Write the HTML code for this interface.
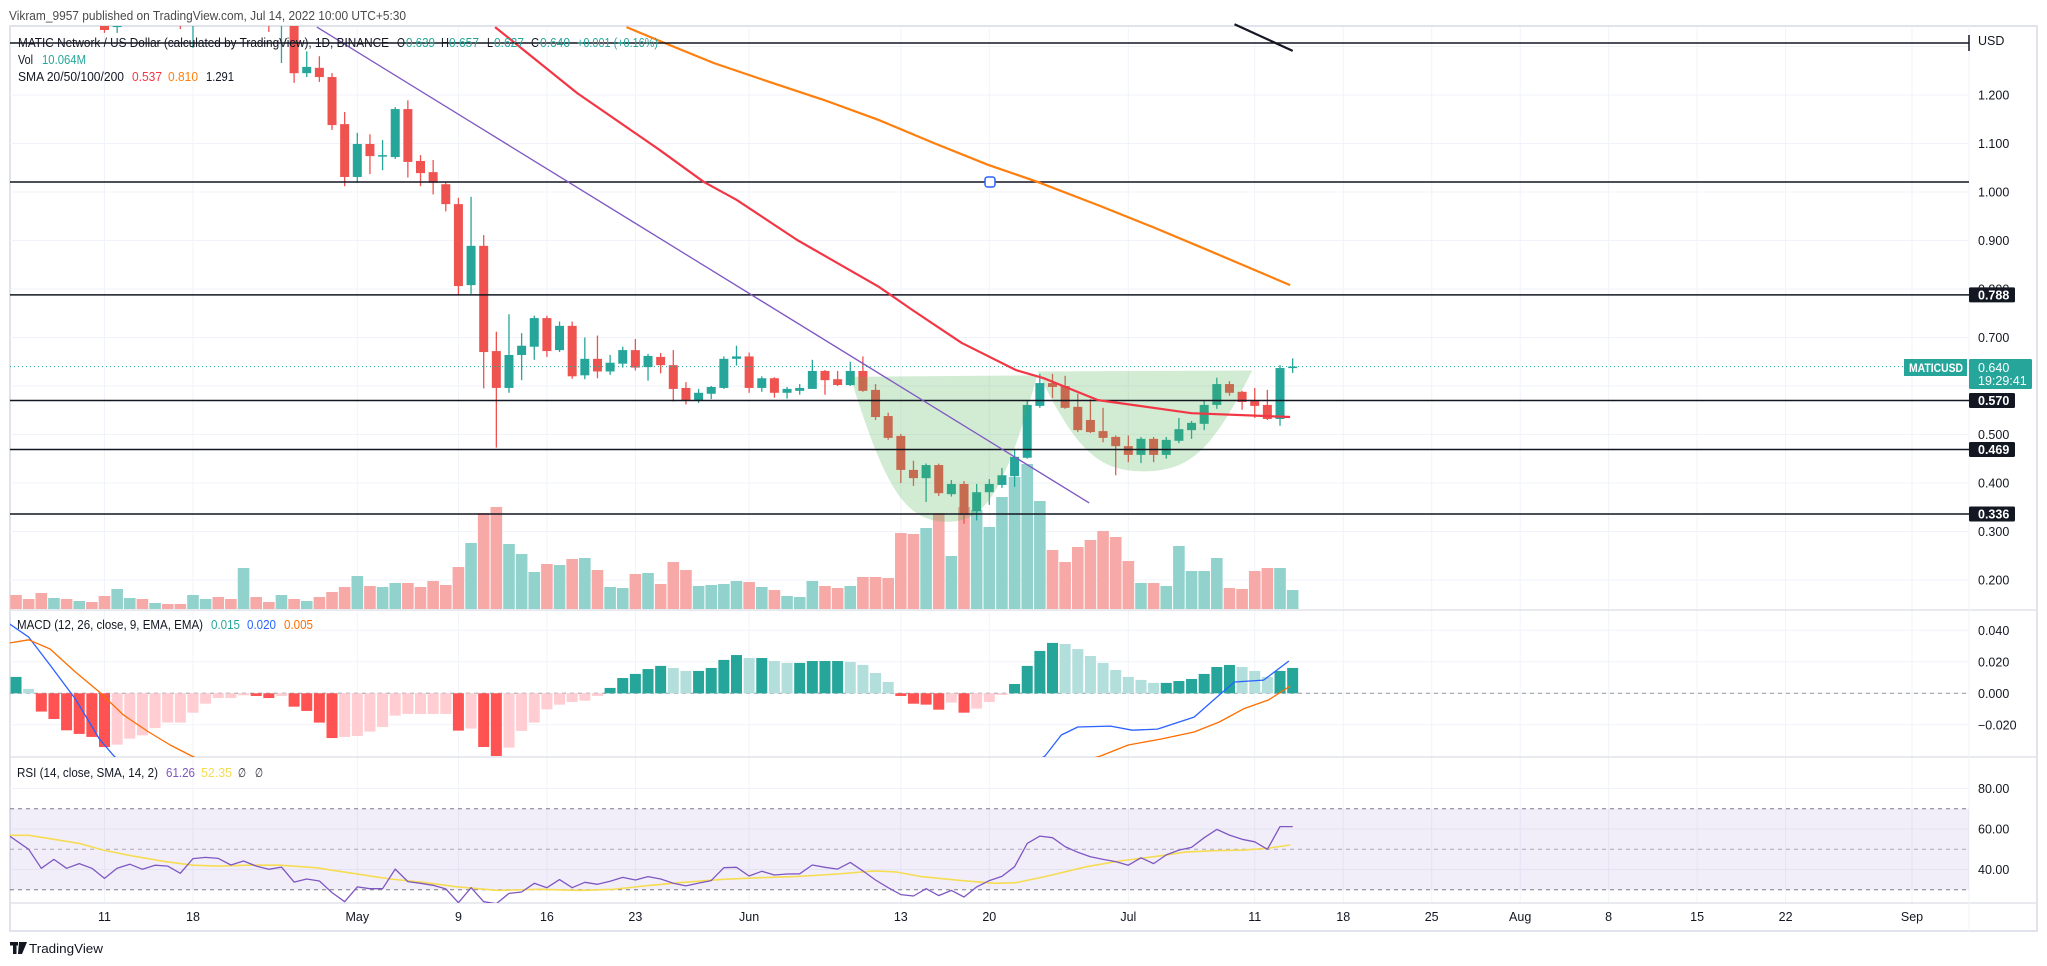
<!DOCTYPE html>
<html><head><meta charset="utf-8"><title>MATICUSD chart</title>
<style>
html,body{margin:0;padding:0;background:#fff;}
svg{display:block;font-family:"Liberation Sans",Arial,sans-serif;}
</style></head>
<body>
<svg id="chart" xmlns="http://www.w3.org/2000/svg" width="2047" height="966" viewBox="0 0 2047 966">
<defs>
<clipPath id="cpPrice"><rect x="10" y="26" width="1959" height="584"/></clipPath>
<clipPath id="cpMacd"><rect x="10" y="611" width="1959" height="146"/></clipPath>
<clipPath id="cpRsi"><rect x="10" y="758" width="1959" height="145"/></clipPath>
</defs>
<rect x="0" y="0" width="2047" height="966" fill="#ffffff"/>
<text x="9" y="20" font-size="12.5" fill="#4a4a4a" textLength="397" lengthAdjust="spacingAndGlyphs">Vikram_9957 published on TradingView.com, Jul 14, 2022 10:00 UTC+5:30</text>
<rect x="10" y="26" width="2027" height="905" fill="none" stroke="#e0e3eb" stroke-width="2"/>
</svg>
<script>
// ---------- data ----------
const firstDay = -7; // Apr 4, 2022 (day 0 = Apr 11)
const opens  = [1.52,1.50,1.46,1.42,1.45,1.41,1.43,1.37,1.34,1.38,1.42,1.40,1.43,1.39,1.345,1.40,1.42,1.39,1.36,1.41,1.38,1.36,1.39,1.245,1.256,1.237,1.140,1.031,1.099,1.074,1.072,1.171,1.064,1.041,1.016,0.975,0.808,0.889,0.672,0.596,0.664,0.681,0.740,0.674,0.724,0.622,0.656,0.630,0.646,0.674,0.639,0.660,0.643,0.596,0.571,0.584,0.596,0.656,0.661,0.596,0.616,0.586,0.590,0.594,0.631,0.614,0.602,0.631,0.592,0.538,0.497,0.427,0.410,0.437,0.377,0.398,0.342,0.381,0.396,0.414,0.452,0.559,0.606,0.600,0.557,0.530,0.507,0.495,0.476,0.458,0.491,0.458,0.487,0.509,0.522,0.561,0.604,0.588,0.569,0.561,0.532,0.639];
const highs  = [1.58,1.55,1.50,1.47,1.48,1.45,1.45,1.41,1.40,1.44,1.46,1.45,1.46,1.42,1.42,1.44,1.45,1.42,1.43,1.44,1.40,1.42,1.40,1.29,1.28,1.245,1.165,1.122,1.119,1.107,1.175,1.189,1.076,1.066,1.02,0.988,0.99,0.911,0.712,0.748,0.709,0.745,0.745,0.733,0.733,0.700,0.704,0.664,0.681,0.697,0.666,0.668,0.674,0.608,0.594,0.600,0.661,0.683,0.669,0.620,0.618,0.598,0.604,0.654,0.633,0.631,0.650,0.661,0.604,0.545,0.501,0.446,0.440,0.440,0.406,0.404,0.398,0.408,0.431,0.470,0.571,0.625,0.625,0.621,0.584,0.573,0.555,0.498,0.498,0.495,0.495,0.495,0.534,0.528,0.571,0.617,0.610,0.590,0.596,0.592,0.643,0.657];
const lows   = [1.47,1.44,1.40,1.38,1.39,1.38,1.36,1.328,1.328,1.36,1.38,1.37,1.38,1.336,1.297,1.37,1.38,1.35,1.35,1.37,1.33,1.266,1.225,1.237,1.227,1.128,1.012,1.019,1.037,1.045,1.068,1.03,1.012,0.995,0.96,0.787,0.79,0.595,0.473,0.586,0.612,0.654,0.660,0.670,0.615,0.614,0.616,0.623,0.638,0.632,0.611,0.626,0.568,0.562,0.565,0.573,0.594,0.642,0.586,0.588,0.576,0.574,0.582,0.594,0.582,0.600,0.600,0.588,0.530,0.489,0.400,0.394,0.361,0.373,0.372,0.316,0.323,0.355,0.390,0.392,0.450,0.555,0.575,0.553,0.505,0.503,0.484,0.416,0.443,0.441,0.443,0.450,0.482,0.491,0.509,0.553,0.580,0.551,0.534,0.530,0.518,0.627];
const closes = [1.50,1.46,1.42,1.45,1.41,1.43,1.37,1.334,1.38,1.42,1.40,1.43,1.39,1.345,1.40,1.42,1.39,1.36,1.41,1.38,1.36,1.39,1.245,1.258,1.237,1.138,1.031,1.099,1.074,1.076,1.171,1.062,1.039,1.019,0.975,0.806,0.889,0.670,0.596,0.664,0.683,0.740,0.672,0.724,0.620,0.656,0.630,0.648,0.674,0.638,0.662,0.643,0.594,0.571,0.586,0.598,0.656,0.661,0.596,0.616,0.586,0.594,0.596,0.631,0.612,0.602,0.631,0.590,0.536,0.493,0.427,0.410,0.437,0.379,0.398,0.334,0.381,0.398,0.416,0.454,0.561,0.606,0.598,0.555,0.509,0.505,0.493,0.476,0.458,0.491,0.458,0.489,0.511,0.524,0.561,0.604,0.586,0.567,0.559,0.532,0.637,0.640];
const volumes = [7,5,8,5.5,5,4,3.5,6.5,10,5.5,5,3,2.5,2.5,7,5,6,5,20.5,6,3.5,7,5,4,6,8.5,11,16.5,11.5,11,13,13,11,14,12,21,33,48,51,32.5,27.5,18.5,22.5,22,25,25.5,19.5,11,10.5,17.5,18,12.5,23.5,19.5,11.5,12,12.5,14,13.5,11,9.5,6.5,6,14,11.5,10.5,11.5,16,16,15.5,38,37.5,40.5,48,26.5,51,49.5,41,56,66,72.5,54,29.5,23.5,31,34.5,39,36,24,13,13,11.5,31.5,19,19,25.5,10.5,10,19,20.5,20.5,9.5];
const macdHist = [10.4,2.8,-11.6,-16.3,-23.5,-25.8,-27.7,-34.1,-32.6,-28.8,-26.7,-22.0,-18.6,-18.6,-12.3,-6.6,-3.0,-3.0,-1.3,-1.7,-3.0,-1.7,-8.5,-11.2,-18.6,-28.4,-27.7,-27.1,-24.3,-21.4,-14.2,-13.1,-13.1,-13.1,-13.1,-23.7,-22.4,-34.1,-39.8,-34.5,-23.9,-18.6,-10.2,-7.2,-5.5,-4.7,-1.7,3.4,9.7,12.3,15.4,17.4,16.1,14.2,14.2,16.1,21.2,24.3,22.4,22.4,20.5,19.3,19.3,20.5,20.5,20.5,19.9,18.0,12.9,7.2,-1.7,-6.6,-7.2,-10.4,-5.9,-12.3,-9.7,-5.5,-1.1,5.9,17.4,26.9,32.0,31.3,28.1,23.7,19.3,14.8,10.4,8.5,6.6,6.6,7.8,9.1,12.3,16.7,18.0,16.7,14.2,10.4,14.2,16.1];
const macdDays = [-7.5,-6,-4.3,-2.3,-0.4,0.75,5,35,70,74.4,75.7,77,79.6,81.3,83.3,86.2,88.2,89.4,91.7,93.7];
const macdVals = [44.0,35.7,17.9,-3.6,-29.0,-39.9,-70,-100,-60,-39.9,-26.5,-21.4,-20.8,-23.4,-22.7,-15.1,-1.1,7.2,8.4,20.5];
const signalDays = [-7.5,-6,-4.3,-2.3,-0.4,1.5,3.5,5.2,6.9,15,50,70,78.8,81,83.6,86.2,88.2,90.1,92.1,93.8];
const signalVals = [32.0,34.0,28.1,13.5,0.8,-13.8,-24.6,-32.8,-39.8,-70,-90,-60,-39.8,-32.8,-29.0,-24.6,-18.2,-9.9,-4.2,4.6];
const rsiFirst = [-7.5, 56.5];
const rsiVals = [50.0,40.6,45.0,40.6,42.9,40.6,35.6,40.6,42.6,40.1,42.1,41.7,38.1,45.4,46.0,45.5,42.2,44.2,41.7,40.1,41.2,33.8,35.3,34.3,28.6,24.1,31.4,30.5,30.5,40.2,34.0,33.2,32.2,30.4,23.6,31.0,24.1,23.1,28.2,28.9,33.2,31.0,35.0,31.0,33.7,32.7,34.2,36.1,34.8,36.5,35.3,33.2,31.9,33.3,34.5,40.9,41.1,36.8,39.1,37.3,37.8,37.9,42.2,41.1,40.2,43.5,39.3,34.8,31.0,27.6,26.9,30.5,27.1,29.7,26.4,31.4,34.5,36.6,41.4,52.9,56.5,55.7,51.3,48.5,46.3,45.0,43.9,42.1,45.8,42.9,47.2,49.6,50.9,55.7,59.8,57.0,54.9,53.7,50.0,61.2,61.2];
const rsiMaDays = [-7.5,-6,-4.3,-2,-0.1,2.2,4.8,7,8.9,11.4,13.9,16.7,19.3,22.6,25.2,27.8,31.1,34.4,37.6,40.3,42.9,45.5,48.8,52.1,54.7,58,60.9,62.6,64.5,67.8,70.5,72.1,74.4,77.7,80.3,83.6,85.5,87.8,90.1,92.1,93.8];
const rsiMaVals = [56.9,56.9,55.2,52.9,49.6,46.7,43.9,42.1,41.7,42.1,42.1,40.9,38.4,35.3,33.7,31.5,29.7,30.2,29.7,30.2,32.0,33.5,35.1,36.0,36.5,37.8,39.3,38.8,36.6,34.5,33.2,33.5,36.5,41.4,44.2,46.8,48.6,49.3,49.6,50.5,52.1];
const sma20Days = [30.9,37.4,43.9,47.4,50.0,54.8,61.3,63.9,67.8,72.1,74.3,78.6,86.0,93.8];
const sma20Vals = [1.340,1.204,1.087,1.021,0.984,0.901,0.804,0.757,0.689,0.633,0.616,0.571,0.544,0.536];
const sma50Days = [41.3,44.7,48.2,52.6,56.9,61.3,65.6,69.9,73.8,78.6,82.9,87.3,93.8];
const sma50Vals = [1.340,1.303,1.266,1.227,1.190,1.148,1.101,1.056,1.021,0.973,0.928,0.880,0.808];
const sma100Days = [89.4,94];
const sma100Vals = [1.346,1.291];
const trendDays = [16.8,77.9];
const trendVals = [1.340,0.359];
const levelPrices = [0.788,0.570,0.469,0.336];
const levelLabels = ['0.788','0.570','0.469','0.336'];
const priceTicks = [1.2,1.1,1.0,0.9,0.8,0.7,0.5,0.4,0.3,0.2];
const priceTickLabels = ['1.200','1.100','1.000','0.900','0.800','0.700','0.500','0.400','0.300','0.200'];
const macdTicks = [40,20,0,-20];
const macdTickLabels = ['0.040','0.020','0.000','\u22120.020'];
const rsiTicks = [80,60,40];
const rsiTickLabels = ['80.00','60.00','40.00'];
const dateDays = [0,7,20,28,35,42,51,63,70,81,91,98,105,112,119,126,133,143];
const dateLabels = ['11','18','May','9','16','23','Jun','13','20','Jul','11','18','25','Aug','8','15','22','Sep'];
const cup1Days = [59,73.8,66.7];
const cup1Vals = [0.619,0.622,0.320];
const cup2Days = [73.8,90.8,82.2];
const cup2Vals = [0.630,0.632,0.424];
const lastPrice = 0.640;

// ---------- axes ----------
const xOf = d => 104.5 + 12.64 * d;
const yP = p => 192 + (1 - p) * 485;
const yV = v => 609 - v * 2;
const yM = m => 693.3 - m * 1.575;
const yR = r => 829 + (60 - r) * 2.025;

const NS = 'http://www.w3.org/2000/svg';
const svg = document.getElementById('chart');
function mk(tag, attrs, parent) {
  const e = document.createElementNS(NS, tag);
  for (const k in attrs) e.setAttribute(k, attrs[k]);
  (parent || svg).appendChild(e);
  return e;
}
function txt(s, attrs, parent) { const e = mk('text', attrs, parent); e.textContent = s; return e; }
const GREEN = '#26a69a', RED = '#ef5350';

// grids
const grid = mk('g', {});


dateDays.forEach(d => {
  const l = mk('line', {x1: xOf(d), x2: xOf(d), y1: 27, y2: 903, stroke: '#f0f3fa', 'stroke-width': 1}, grid);
  
  
});
[1.3,1.2,1.1,1.0,0.9,0.8,0.7,0.6,0.5,0.4,0.3,0.2].forEach(p => {
  const l = mk('line', {x1: 10, x2: 1969, y1: yP(p), y2: yP(p), stroke: '#f0f3fa'}, grid);
  
  
});
macdTicks.forEach(m => {
  const l = mk('line', {x1: 10, x2: 1969, y1: yM(m), y2: yM(m), stroke: '#f0f3fa'}, grid);
  
  
});
rsiTicks.forEach(r => {
  const l = mk('line', {x1: 10, x2: 1969, y1: yR(r), y2: yR(r), stroke: '#f0f3fa'}, grid);
  
  
});
// pane separators
[610, 757, 903].forEach(y => {
  const l = mk('line', {x1: 10, x2: 2037, y1: y, y2: y, stroke: '#e0e3eb', 'stroke-width': 1.5});
  
  
});
const axSep = mk('line', {x1: 1969, x2: 1969, y1: 26, y2: 931, stroke: '#f0f3fa'});



// ---------- price pane ----------
const pricePane = mk('g', {'clip-path': 'url(#cpPrice)'});



// volume
volumes.forEach((v, i) => {
  const d = firstDay + i;
  const up = closes[i] >= opens[i];
  const r = mk('rect', {x: xOf(d) - 5.8, y: yV(v), width: 11.6, height: 609 - yV(v), fill: up ? '#92d2cc' : '#f7a9a7'}, pricePane);
  
  
});

// candles
opens.forEach((o, i) => {
  const d = firstDay + i, c = closes[i];
  const col = c >= o ? GREEN : RED;
  const x = xOf(d);
  const w = mk('line', {x1: x, x2: x, y1: yP(highs[i]), y2: yP(lows[i]), stroke: col, 'stroke-width': 1.3}, pricePane);
  
  
  const top = yP(Math.max(o, c)), bot = yP(Math.min(o, c));
  const b = mk('rect', {x: x - 4.5, y: top, width: 9, height: Math.max(1.5, bot - top), fill: col}, pricePane);
  
  
});

// cups
function cupPath(ds, vs) {
  const x0 = xOf(ds[0]), y0 = yP(vs[0]), x1 = xOf(ds[1]), y1 = yP(vs[1]), xb = xOf(ds[2]), yb = yP(vs[2]);
  return `M${x0},${y0} C${x0 + (xb - x0) * 0.35},${y0 + (yb - y0) * 0.75} ${xb - (xb - x0) * 0.45},${yb} ${xb},${yb} C${xb + (x1 - xb) * 0.45},${yb} ${x1 - (x1 - xb) * 0.35},${y1 + (yb - y1) * 0.75} ${x1},${y1} Z`;
}
const cup1 = mk('path', {d: cupPath(cup1Days, cup1Vals), fill: 'rgba(76,175,80,0.25)'}, pricePane);


const cup2 = mk('path', {d: cupPath(cup2Days, cup2Vals), fill: 'rgba(76,175,80,0.25)'}, pricePane);



// horizontal levels
const topLine = mk('line', {x1: 10, x2: 1969, y1: 43, y2: 43, stroke: '#131722', 'stroke-width': 1.5}, svg);


const topTick = mk('line', {x1: 1969, x2: 1969, y1: 35, y2: 51, stroke: '#131722', 'stroke-width': 1.5});


const oneLine = mk('line', {x1: 10, x2: 1969, y1: 182, y2: 182, stroke: '#131722', 'stroke-width': 1.5}, pricePane);


levelPrices.forEach(p => {
  const l = mk('line', {x1: 10, x2: 1969, y1: yP(p), y2: yP(p), stroke: '#131722', 'stroke-width': 1.5}, pricePane);
  
  
});
// last price dotted
const lp = mk('line', {x1: 10, x2: 1969, y1: yP(lastPrice), y2: yP(lastPrice), stroke: GREEN, 'stroke-width': 1, 'stroke-dasharray': '1,3'}, pricePane);



// lines
function poly(ds, vs, yf, color, width, parent) {
  const pts = ds.map((d, i) => xOf(d).toFixed(1) + ',' + yf(vs[i]).toFixed(1)).join(' ');
  const e = mk('polyline', {points: pts, fill: 'none', stroke: color, 'stroke-width': width, 'stroke-linejoin': 'round'}, parent);
  return e;
}
const tl = poly(trendDays, trendVals, yP, '#7e57c2', 1.3, pricePane);


const s20 = poly(sma20Days, sma20Vals, yP, '#f23645', 2.2, pricePane);


const s50 = poly(sma50Days, sma50Vals, yP, '#ff7f0e', 2.2, pricePane);


const s100 = poly(sma100Days, sma100Vals, yP, '#131722', 2.2, svg);


const handle = mk('rect', {x: 985, y: 177, width: 10, height: 10, rx: 2.5, fill: '#fff', stroke: '#2962ff', 'stroke-width': 1.5});



// ---------- MACD pane ----------
const macdPane = mk('g', {'clip-path': 'url(#cpMacd)'});


const z = mk('line', {x1: 10, x2: 1969, y1: yM(0), y2: yM(0), stroke: '#9598a1', 'stroke-dasharray': '4,4'}, macdPane);


macdHist.forEach((v, i) => {
  const prev = i > 0 ? macdHist[i - 1] : v;
  let col;
  if (v >= 0) col = v >= prev ? '#26a69a' : '#b2dfdb';
  else col = v < prev ? '#ff5252' : '#ffcdd2';
  const y0 = yM(0), y1 = yM(v);
  const r = mk('rect', {x: xOf(firstDay + i) - 5.5, y: Math.min(y0, y1), width: 11, height: Math.max(1, Math.abs(y1 - y0)), fill: col}, macdPane);
  
  
});
const ml = poly(macdDays, macdVals, yM, '#2962ff', 1.3, macdPane);


const sl = poly(signalDays, signalVals, yM, '#ff6d00', 1.3, macdPane);



// ---------- RSI pane ----------
const rsiPane = mk('g', {'clip-path': 'url(#cpRsi)'});


const band = mk('rect', {x: 10, y: yR(70), width: 1959, height: yR(30) - yR(70), fill: 'rgba(126,87,194,0.1)'}, rsiPane);


[70, 50, 30].forEach(r => {
  const l = mk('line', {x1: 10, x2: 1969, y1: yR(r), y2: yR(r), stroke: r === 50 ? '#a9a6b8' : '#787b86', 'stroke-dasharray': '4,4'}, rsiPane);
  
  
});
const rsiDays = [rsiFirst[0]].concat(rsiVals.map((v, i) => -6 + i));
const rsiAll = [rsiFirst[1]].concat(rsiVals);
const rma = poly(rsiMaDays, rsiMaVals, yR, '#f5dc52', 1.6, rsiPane);


const rl = poly(rsiDays, rsiAll, yR, '#7e57c2', 1.3, rsiPane);



// ---------- axis labels ----------
priceTicks.forEach((p, i) => {
  const t = txt(priceTickLabels[i], {x: 1978, y: yP(p) + 4.5, 'font-size': 12.5, fill: '#131722'});
  
  
});
const usd = txt('USD', {x: 1978, y: 45, 'font-size': 12.5, fill: '#131722'});


macdTicks.forEach((m, i) => {
  const t = txt(macdTickLabels[i], {x: 1978, y: yM(m) + 4.5, 'font-size': 12.5, fill: '#131722'});
  
  
});
rsiTicks.forEach((r, i) => {
  const t = txt(rsiTickLabels[i], {x: 1978, y: yR(r) + 4.5, 'font-size': 12.5, fill: '#131722'});
  
  
});
levelPrices.forEach((p, i) => {
  const y = yP(p);
  const r = mk('rect', {x: 1969, y: y - 7.5, width: 46, height: 15, rx: 1.5, fill: '#131722'});
  
  
  const t = txt(levelLabels[i], {x: 1978, y: y + 4.5, 'font-size': 12.5, 'font-weight': 'bold', fill: '#fff'});
  
  
});
const symTag = mk('rect', {x: 1904, y: 359, width: 63, height: 17, fill: GREEN});


const symTxt = txt('MATICUSD', {x: 1909, y: 372, 'font-size': 11.5, 'font-weight': 'bold', fill: '#fff', textLength: 54, lengthAdjust: 'spacingAndGlyphs'});


const pTag = mk('rect', {x: 1969, y: 359, width: 63, height: 30, rx: 1.5, fill: GREEN});


const pTxt = txt('0.640', {x: 1978, y: 372, 'font-size': 12.5, fill: '#fff'});


const cdTxt = txt('19:29:41', {x: 1978, y: 385, 'font-size': 12.5, fill: '#fff'});


dateDays.forEach((d, i) => {
  const t = txt(dateLabels[i], {x: xOf(d), y: 921, 'font-size': 12.5, fill: '#131722', 'text-anchor': 'middle'});
  
  
});

// ---------- legends ----------
const lg = mk('g', {'font-size': 12.5});


function leg(s, x, y, col, len) {
  return txt(s, {x: x, y: y, fill: col, textLength: len, lengthAdjust: 'spacingAndGlyphs'}, lg);
}
let t;
t = leg('MATIC Network / US Dollar (calculated by TradingView), 1D, BINANCE', 18, 47, '#131722', 371);


t = leg('O', 397, 47, '#131722', 8);


t = leg('0.639', 406, 47, GREEN, 29);


t = leg('H', 441, 47, '#131722', 8);


t = leg('0.657', 449, 47, GREEN, 30);


t = leg('L', 487, 47, '#131722', 6);


t = leg('0.627', 494, 47, GREEN, 30);


t = leg('C', 531, 47, '#131722', 8);


t = leg('0.640', 540, 47, GREEN, 30);


t = leg('+0.001 (+0.16%)', 577, 47, GREEN, 81);


t = leg('Vol', 18, 64, '#131722', 15);


t = leg('10.064M', 42, 64, GREEN, 44);


t = leg('SMA 20/50/100/200', 18, 81, '#131722', 106);


t = leg('0.537', 132, 81, '#f23645', 30);


t = leg('0.810', 168, 81, '#ff7f0e', 30);


t = leg('1.291', 206, 81, '#131722', 28);


t = leg('MACD (12, 26, close, 9, EMA, EMA)', 17, 629, '#131722', 186);


t = leg('0.015', 211, 629, GREEN, 29);


t = leg('0.020', 247, 629, '#2962ff', 29);


t = leg('0.005', 284, 629, '#ff6d00', 29);


t = leg('RSI (14, close, SMA, 14, 2)', 17, 777, '#131722', 141);


t = leg('61.26', 166, 777, '#7e57c2', 29);


t = leg('52.35', 201, 777, '#f5dc52', 31);


t = leg('\u2205', 238, 777, '#131722', 8);


t = leg('\u2205', 255, 777, '#131722', 8);



// ---------- logo ----------
const logo = mk('g', {});


const l1 = mk('rect', {x: 10, y: 942, width: 8, height: 3.5, fill: '#131722'}, logo);


const l2 = mk('rect', {x: 13, y: 942, width: 3.5, height: 12, fill: '#131722'}, logo);


const l3 = mk('path', {d: 'M19,942 L27,942 L22,954 L18,954 Z', fill: '#131722'}, logo);


const lt = txt('TradingView', {x: 29, y: 953, 'font-size': 13, fill: '#131722', textLength: 74, lengthAdjust: 'spacingAndGlyphs'}, logo);


</script>
</body></html>
